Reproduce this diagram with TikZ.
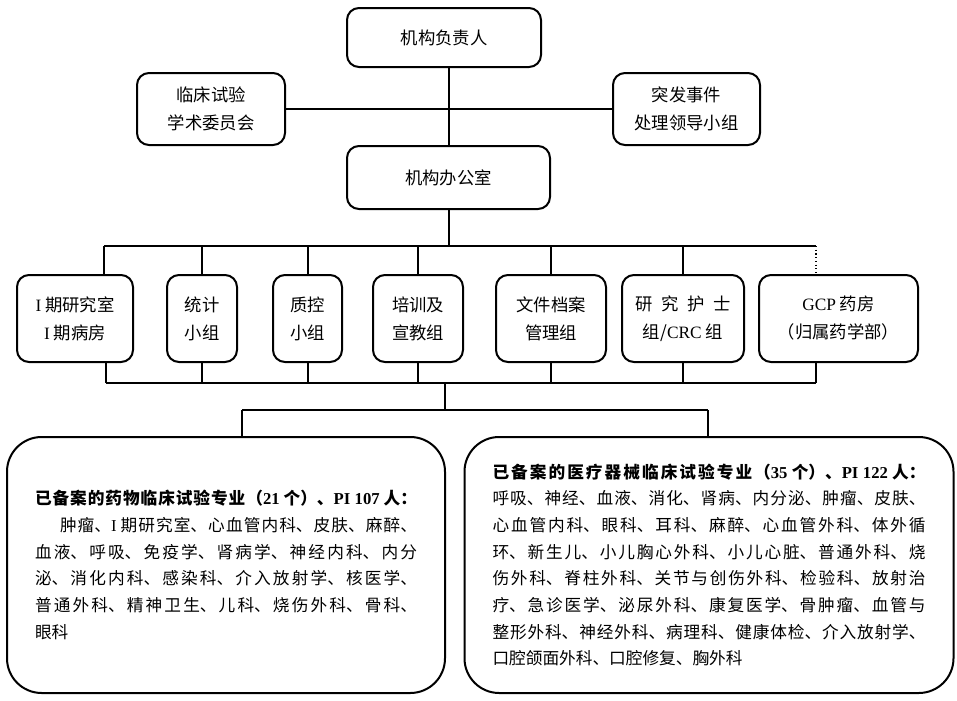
\documentclass[tikz,border=0pt]{standalone}
\usepackage{fontspec}
\setmainfont{Liberation Serif}
\newfontfamily\cjk{Noto Sans CJK SC}
\XeTeXlinebreaklocale "zh"
\XeTeXlinebreakskip=0pt plus 8pt
\newcommand{\lat}[1]{{\rmfamily #1}}
\begin{document}
\begin{tikzpicture}[x=0.75pt, y=-0.75pt, line width=1.5pt,
  box/.style={draw, rounded corners=9pt, align=center, inner sep=0pt,
    font=\cjk\fontsize{13}{21}\selectfont},
  bigbox/.style={draw, rounded corners=26pt, align=justify, inner xsep=21pt,
    minimum height=192pt, font=\cjk\fontsize{12.5}{20}\selectfont}]
  \useasboundingbox (0,0) rectangle (957,700);
  % top of the chart
  \node[box, minimum width=145.5pt, minimum height=44.25pt] (head) at (444,37.5) {机构负责人};
  \node[box, minimum width=111pt, minimum height=54pt] (acad) at (211,109) {临床试验\\学术委员会};
  \node[box, minimum width=110.25pt, minimum height=54pt] (emerg) at (686.5,109) {突发事件\\处理领导小组};
  \node[box, minimum width=152.25pt, minimum height=47.25pt] (office) at (448.5,177.5) {机构办公室};
  \draw (office.north) -- (office.north |- head.south);
  \draw (acad) -- (emerg);
  % groups under the office
  \node[box, minimum width=87pt, minimum height=65.25pt] (p1) at (75,318.5) {\lat{I} 期研究室\\\lat{I} 期病房};
  \node[box, minimum width=52.5pt, minimum height=65.25pt] (stat) at (202,318.5) {统计\\小组};
  \node[box, minimum width=51.75pt, minimum height=65.25pt] (qc) at (307.5,318.5) {质控\\小组};
  \node[box, minimum width=67.5pt, minimum height=65.25pt] (train) at (418,318.5) {培训及\\宣教组};
  \node[box, minimum width=82.5pt, minimum height=65.25pt] (doc) at (551,318.5) {文件档案\\管理组};
  \node[box, minimum width=91.5pt, minimum height=65.25pt] (nurse) at (683,318.5) {研\hspace{0.5em}究\hspace{0.5em}护\hspace{0.5em}士\\组/\lat{CRC} 组};
  \node[box, minimum width=119.25pt, minimum height=65.25pt] (gcp) at (838.5,318.5) {\lat{GCP} 药房\\（归属药学部）};
  \coordinate (busw) at (104,246);
  \coordinate (buse) at (816,246);
  \draw (office) -- (office |- busw);
  \draw (busw) -- (buse);
  \draw (busw) -- (busw |- p1.north);
  \foreach \n in {stat,qc,train,doc,nurse}
    \draw (\n) -- (\n |- busw);
  \draw[line width=0.8pt, dotted] (buse) -- (buse |- gcp.north);
  \coordinate (lbusw) at (106,383);
  \coordinate (lbuse) at (816,383);
  \draw (lbusw) -- (lbuse);
  \draw (lbusw) -- (lbusw |- p1.south);
  \draw (lbuse) -- (lbuse |- gcp.south);
  \foreach \n in {stat,qc,train,doc,nurse}
    \draw (\n) -- (\n |- lbusw);
  % registered specialties
  \node[bigbox, text width=286.5pt] (drug) at (226,565) {%
    {\bfseries 已备案的药物临床试验专业（\lat{21} 个）、\lat{PI 107} 人：}\linebreak
    \hspace*{1.5em}肿瘤、\lat{I} 期研究室、心血管内科、皮肤、麻醉、\linebreak
    血液、呼吸、免疫学、肾病学、神经内科、内分\linebreak
    泌、消化内科、感染科、介入放射学、核医学、\linebreak
    普通外科、精神卫生、儿科、烧伤外科、骨科、\linebreak
    眼科};
  \node[bigbox, text width=324.75pt] (dev) at (709,565) {%
    {\bfseries 已备案的医疗器械临床试验专业（\lat{35} 个）、\lat{PI 122} 人：}\linebreak
    呼吸、神经、血液、消化、肾病、内分泌、肿瘤、皮肤、\linebreak
    心血管内科、眼科、耳科、麻醉、心血管外科、体外循\linebreak
    环、新生儿、小儿胸心外科、小儿心脏、普通外科、烧\linebreak
    伤外科、脊柱外科、关节与创伤外科、检验科、放射治\linebreak
    疗、急诊医学、泌尿外科、康复医学、骨肿瘤、血管与\linebreak
    整形外科、神经外科、病理科、健康体检、介入放射学、\linebreak
    口腔颌面外科、口腔修复、胸外科};
  \coordinate (split) at (445,410);
  \coordinate (splitw) at (242,410);
  \coordinate (splite) at (708,410);
  \draw (split) -- (split |- lbusw);
  \draw (splitw) -- (splite);
  \draw (splitw) -- (splitw |- drug.north);
  \draw (splite) -- (splite |- dev.north);
\end{tikzpicture}
\end{document}
